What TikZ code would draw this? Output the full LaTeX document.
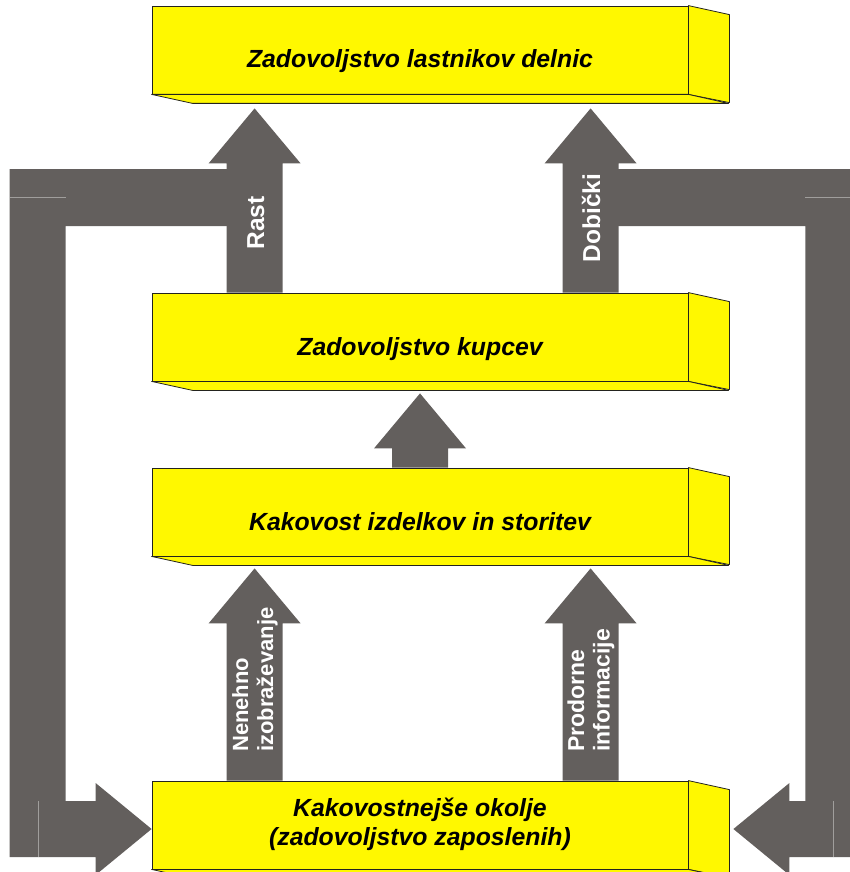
\documentclass[tikz,border=0pt]{standalone}
\usepackage{fontspec}
\setmainfont{Liberation Sans}
\usetikzlibrary{calc,backgrounds}

\definecolor{boxyellow}{RGB}{255,248,0}
\definecolor{boxline}{RGB}{35,35,30}
\definecolor{arrowgray}{RGB}{99,95,93}
\definecolor{seamgray}{RGB}{160,158,156}

% vertical block arrow: #1 = foot of the shaft, #2 = tip
\newcommand\upblock[2]{%
  \fill[arrowgray] let \p1=(#1), \p2=(#2) in
    (\x2,\y2) -- (\x2-46pt,\y2-55pt) -- (\x2-28pt,\y2-55pt) -- (\x2-28pt,\y1)
    -- (\x2+28pt,\y1) -- (\x2+28pt,\y2-55pt) -- (\x2+46pt,\y2-55pt) -- cycle;}

\tikzset{
  front/.style={draw=boxline, fill=boxyellow, line width=0.8pt,
    minimum width=536pt, minimum height=88pt, inner sep=0pt},
  face/.style={draw=boxline, fill=boxyellow, line width=0.8pt, line join=round},
  boxtext/.style={inner sep=0pt, anchor=base,
    font=\fontsize{24.8}{29}\selectfont\bfseries\itshape},
  lbl/.style={inner sep=0pt, text=white, rotate=90,
    font=\fontsize{23}{25.5}\selectfont\bfseries},
  biglbl/.style={lbl, font=\fontsize{24.5}{27}\selectfont\bfseries},
  smalllbl/.style={lbl, font=\fontsize{22}{25}\selectfont\bfseries},
  seam/.style={draw=seamgray, line width=0.6pt},
}

\newcommand\solidbox[1]{%
  \draw[face] (#1.north east) -- ++(41,9) -- ++(0,88) -- (#1.south east) -- cycle;
  \draw[face] (#1.south west) -- ++(41,9) -- ++(536,0) -- (#1.south east) -- cycle;}

\begin{document}
\begin{tikzpicture}[x=1pt,y=-1pt]
\useasboundingbox (0,0) rectangle (849,872);
\clip (0,0) rectangle (849,872);

% the four boxes (front faces)
\node[front] (b1) at (420,50)  {};
\node[front] (b2) at (420,337) {};
\node[front] (b3) at (420,512) {};
\node[front] (b4) at (420,825) {};
\solidbox{b1}
\solidbox{b2}
\solidbox{b3}
\solidbox{b4}

\node[boxtext] (t1)  at (420,68)  {Zadovoljstvo lastnikov delnic};
\node[boxtext] (t2)  at (420,355) {Zadovoljstvo kupcev};
\node[boxtext] (t3)  at (420,530) {Kakovost izdelkov in storitev};
\node[boxtext] (t4a) at (420,816) {Kakovostnejše okolje};
\node[boxtext] (t4b) at (420,845) {(zadovoljstvo zaposlenih)};

% arrow end points
\coordinate (rastfoot) at ($(b2.north west)+(103,0)$);
\coordinate (rasttip)  at ($(b1.south west)+(103,14)$);
\coordinate (dobfoot)  at ($(b2.north west)+(439,0)$);
\coordinate (dobtip)   at ($(b1.south west)+(439,14)$);
\coordinate (midfoot)  at (b3.north);
\coordinate (midtip)   at ($(b2.south)+(0,12)$);
\coordinate (nenfoot)  at ($(b4.north west)+(103,0)$);
\coordinate (nentip)   at ($(b3.south west)+(103,12)$);
\coordinate (profoot)  at ($(b4.north west)+(439,0)$);
\coordinate (protip)   at ($(b3.south west)+(439,12)$);
\coordinate (ltip)     at ($(b4.west)+(0,4)$);
\coordinate (rtip)     at ($(b4.east)+(45,4)$);

\begin{scope}[on background layer]
  \upblock{rastfoot}{rasttip}
  \upblock{dobfoot}{dobtip}
  \upblock{midfoot}{midtip}
  \upblock{nenfoot}{nentip}
  \upblock{profoot}{protip}
  % left return loop into the bottom box
  \fill[arrowgray] (ltip) -- ++(-56,-46) -- ++(0,18) -- ++(-30,0) -- ++(0,-575)
    -- ++(189,0) -- ++(0,-57) -- ++(-245,0) -- ++(0,688) -- ++(86,0)
    -- ++(0,18) -- cycle;
  % right return loop into the bottom box
  \fill[arrowgray] (rtip) -- ++(56,-46) -- ++(0,18) -- ++(16,0) -- ++(0,-575)
    -- ++(-214,0) -- ++(0,-57) -- ++(270,0) -- ++(0,688) -- ++(-72,0)
    -- ++(0,18) -- cycle;
  % seams between the joined pieces
  \draw[seam] (10,197) -- (66,197);
  \draw[seam] (38,801) -- (38,857);
  \draw[seam] (805,197) -- (861,197);
  \draw[seam] (833,801) -- (833,857);
\end{scope}

% labels on the arrows
\node[biglbl, anchor=base] (lrast) at (264,223) {Rast};
\node[biglbl, anchor=base] (ldob)  at (600,218) {Dobički};
\node[smalllbl, anchor=west, align=left] (lnen) at (255,752) {Nenehno\\izobraževanje};
\node[lbl, anchor=west, align=left] (lpro) at (591,752) {Prodorne\\informacije};
\end{tikzpicture}
\end{document}
